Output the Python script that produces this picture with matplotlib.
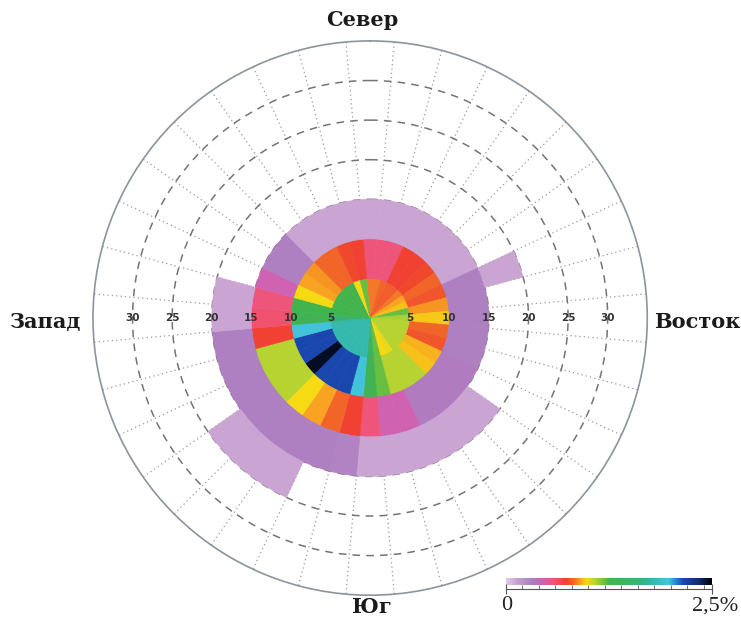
import numpy as np
import matplotlib.pyplot as plt
from matplotlib.colors import LinearSegmentedColormap, Normalize
from matplotlib.cm import ScalarMappable

# повторяемость (%) по направлениям (через 10°) и градациям 0-5, 5-10, ... 
directions = np.arange(0, 360, 10)
ring_edges = [0, 5, 10, 15, 20, 25]
nan = np.nan

ring_0_5 = [0.84, 0.84, 0.82, 0.80, 0.80, 0.84, 0.90, 0.94, 1.20, 1.10,
            1.08, 1.08, 1.08, 1.08, 1.08, 1.00, 0.98, 1.20, 1.50, 1.78,
            1.78, 1.78, 1.78, 1.78, 1.78, 1.78, 1.78, 1.60, 1.30, 1.30,
            1.30, 1.30, 1.25, 1.30, 0.98, 1.20]
ring_5_10 = [0.575, 0.575, 0.575, 0.72, 0.72, 0.75, 0.82, 0.78, 0.88, 0.95,
             0.82, 0.78, 0.92, 0.94, 1.08, 1.08, 1.08, 1.20, 1.35, 1.95,
             2.15, 2.15, 2.15, 2.45, 2.15, 2.15, 1.95, 1.35, 1.30, 0.98,
             0.90, 0.88, 0.82, 0.82, 0.75, 0.72]
ring_10_15 = [0.12, 0.12, 0.12, 0.12, 0.12, 0.12, 0.12, 0.30, 0.30, 0.30,
              0.30, 0.30, 0.32, 0.32, 0.32, 0.32, 0.45, 0.45, 0.575, 0.72,
              0.82, 0.90, 0.98, 1.08, 1.08, 1.08, 0.72, 0.60, 0.575, 0.45,
              0.30, 0.30, 0.12, 0.12, 0.12, 0.12]
ring_15_20 = [nan, nan, nan, nan, nan, nan, nan, 0.12, nan, nan,
              nan, nan, nan, 0.12, 0.12, 0.12, 0.12, 0.12, 0.12, 0.28,
              0.30, 0.30, 0.30, 0.30, 0.30, 0.30, 0.30, 0.12, 0.12, nan,
              nan, nan, nan, nan, nan, nan]
ring_20_25 = [nan] * 21 + [0.12, 0.12, 0.12] + [nan] * 12

rings = [ring_0_5, ring_5_10, ring_10_15, ring_15_20, ring_20_25]

# шкала 0 - 2,5 %
cmap = LinearSegmentedColormap.from_list('rose', [
    (0.00, '#dccae6'), (0.05, '#c9a3d3'), (0.12, '#ad7ec0'),
    (0.18, '#d062b2'), (0.23, '#f05478'), (0.29, '#f0402e'),
    (0.33, '#f26a28'), (0.36, '#f8a222'), (0.39, '#f8da12'),
    (0.43, '#b8d432'), (0.50, '#44b448'), (0.64, '#3ab272'),
    (0.71, '#34b8aa'), (0.79, '#44c4e0'), (0.86, '#1a48b0'),
    (0.94, '#10286e'), (1.00, '#000000')])
norm = Normalize(0, 2.5)

fig = plt.figure(figsize=(7.41, 6.2), dpi=100)
ax = fig.add_axes([0.1255, 0.040, 0.748, 0.894], projection='polar')
ax.set_theta_zero_location('N')
ax.set_theta_direction(-1)

theta = np.deg2rad(directions)
for i, ring in enumerate(rings):
    vals = np.array(ring)
    ok = ~np.isnan(vals)
    cols = cmap(norm(vals[ok]))
    ax.bar(theta[ok], 5, width=np.deg2rad(10), bottom=ring_edges[i],
           color=cols, edgecolor=cols, linewidth=0.4, zorder=2)

ax.set_rlim(0, 35)
ax.set_rticks(np.arange(5, 31, 5))
ax.set_yticklabels([])
ax.set_xticks(np.deg2rad(np.arange(5, 360, 10)))
ax.set_xticklabels([])
ax.tick_params(length=0, pad=0)
ax.set_axisbelow(True)
ax.yaxis.grid(True, linestyle=(0, (5, 4)), color='#747474', linewidth=1.1)
ax.xaxis.grid(True, linestyle=(0, (1, 2.5)), color='#9a9a9a', linewidth=0.9)
ax.spines['polar'].set_color('#8c949c')
ax.spines['polar'].set_linewidth(1.2)

for r in range(5, 31, 5):
    for a in (90, 270):
        ax.text(np.deg2rad(a), r, str(r), ha='center', va='center',
                fontsize=7.5, fontweight='bold', color='#333333', zorder=5)

lab = dict(family='DejaVu Serif', fontsize=15, fontweight='bold', color='#1a1a1a',
           ha='center', va='center')
fig.text(362 / 741, 1 - 20 / 620, 'Север', **lab)
fig.text(372 / 741, 1 - 607 / 620, 'Юг', **lab)
fig.text(46 / 741, 1 - 322 / 620, 'Запад', **lab)
fig.text(697 / 741, 1 - 322 / 620, 'Восток', **lab)

# цветовая шкала
cax = fig.add_axes([506 / 741, 1 - 585 / 620, 206 / 741, 7 / 620])
cb = fig.colorbar(ScalarMappable(norm=norm, cmap=cmap), cax=cax, orientation='horizontal')
cb.outline.set_visible(False)
cax.set_xticks([])

tax = fig.add_axes([506 / 741, 1 - 589 / 620, 206 / 741, 0.0001])
tax.set_xlim(0, 2.5)
for s in ('left', 'right', 'top'):
    tax.spines[s].set_visible(False)
tax.spines['bottom'].set_color('#555555')
tax.set_yticks([])
tax.set_xticks([0, 2.5])
tax.set_xticks(np.arange(0.2, 2.45, 0.2), minor=True)
tax.tick_params(axis='x', which='major', direction='inout', length=7, color='#555555', labelbottom=False)
tax.tick_params(axis='x', which='minor', direction='in', length=3, color='#555555')

fig.text(507 / 741, 1 - 606 / 620, '0', family='Liberation Serif', fontsize=16,
         ha='center', va='center', color='#222222')
fig.text(738 / 741, 1 - 606 / 620, '2,5%', family='Liberation Serif', fontsize=16,
         ha='right', va='center', color='#222222')

fig.savefig('out.png', dpi=100)
